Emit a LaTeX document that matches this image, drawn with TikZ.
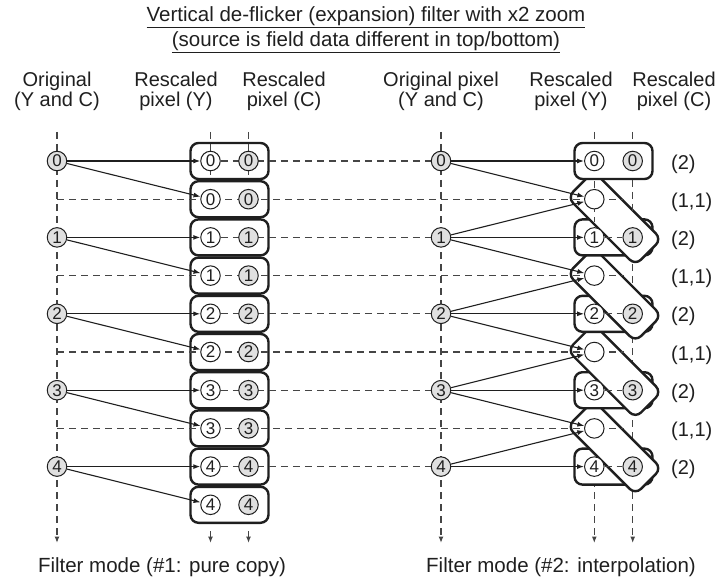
\documentclass[tikz,border=0pt]{standalone}
\usepackage{fontspec}
\setmainfont{Liberation Sans}
\usetikzlibrary{arrows.meta}
\pgfdeclarelayer{boxl}
\pgfdeclarelayer{vlines}
\pgfdeclarelayer{boxr}
\pgfdeclarelayer{hlines}
\pgfsetlayers{boxl,vlines,boxr,hlines,main}
\definecolor{cfill}{gray}{0.88}
\definecolor{dgray}{gray}{0.27}
\definecolor{ink}{gray}{0.12}
\begin{document}
\begin{tikzpicture}[x=1pt,y=-1pt,
  txt/.style={font=\fontsize{20}{22}\selectfont, inner sep=0pt, text=ink},
  ttl/.style={font=\fontsize{20.5}{22}\selectfont, inner sep=0pt, text=ink},
  foot/.style={font=\fontsize{20.5}{22}\selectfont, inner sep=0pt, text=ink},
  dline/.style={draw=dgray, line width=1.2pt, dash pattern=on 7pt off 5pt},
  darr/.style={dline, -{Latex[length=6.5pt,width=5pt]}},
  arr/.style={draw=ink, line width=1.1pt, -{Latex[length=7pt,width=5pt]}},
  rowbox/.style={draw=ink, line width=2.4pt, rounded corners=8pt, fill=white, minimum width=78pt, minimum height=36pt, inner sep=0pt},
  tiltbox/.style={rowbox, minimum width=96pt, minimum height=37pt, rotate=-45},
  pix/.style={circle, draw=ink, line width=1pt, minimum size=19.5pt, inner sep=0pt, text=ink, font=\fontsize{17}{17}\selectfont},
  opix/.style={pix, fill=cfill},
  ypix/.style={pix, fill=white},
  cpix/.style={pix, fill=cfill}
]
\useasboundingbox (0,0) rectangle (717,580);

% titles
\node[ttl, anchor=base] (t1) at (366,22) {\underline{Vertical de-flicker (expansion) filter with x2 zoom}};
\node[ttl, anchor=base] (t2) at (366,47) {\underline{(source is field data different in top/bottom)}};

% headers
\node[txt, anchor=base] (h1a) at (57,86.5) {Original};
\node[txt, anchor=base] (h1b) at (57,106.5) {(Y and C)};
\node[txt, anchor=base] (h2a) at (176,86.5) {Rescaled};
\node[txt, anchor=base] (h2b) at (176,106.5) {pixel (Y)};
\node[txt, anchor=base] (h3a) at (284,86.5) {Rescaled};
\node[txt, anchor=base] (h3b) at (284,106.5) {pixel (C)};
\node[txt, anchor=base] (h4a) at (441,86.5) {Original pixel};
\node[txt, anchor=base] (h4b) at (441,106.5) {(Y and C)};
\node[txt, anchor=base] (h5a) at (571,86.5) {Rescaled};
\node[txt, anchor=base] (h5b) at (571,106.5) {pixel (Y)};
\node[txt, anchor=base] (h6a) at (674,86.5) {Rescaled};
\node[txt, anchor=base] (h6b) at (674,106.5) {pixel (C)};

% footers
\node[foot, anchor=base] (f1) at (162,572) {Filter mode (\#1: pure copy)};
\node[foot, anchor=base] (f2) at (561,572) {Filter mode (\#2: interpolation)};

% pixel circles
\foreach \k in {0,...,4} {
  \pgfmathsetmacro\ya{161+76.4*\k}
  \pgfmathsetmacro\yb{199.2+76.4*\k}
  \node[opix] (oL\k) at (57,\ya) {\k};
  \node[ypix] (yLa\k) at (210.5,\ya) {\k};
  \node[cpix] (cLa\k) at (248.5,\ya) {\k};
  \node[ypix] (yLb\k) at (210.5,\yb) {\k};
  \node[cpix] (cLb\k) at (248.5,\yb) {\k};
  \node[opix] (oR\k) at (441,\ya) {\k};
  \node[ypix] (yR\k) at (594.3,\ya) {\k};
  \node[cpix] (cR\k) at (632.7,\ya) {\k};
  \node[txt, anchor=west] (lab2\k) at (671,\ya+3) {(2)};
}
\foreach \k in {0,...,3} {
  \pgfmathsetmacro\yb{199.2+76.4*\k}
  \node[ypix] (eR\k) at (594.3,\yb) {};
  \node[txt, anchor=west] (lab11\k) at (671,\yb+3) {(1,1)};
}

% left boxes
\begin{pgfonlayer}{boxl}
\foreach \i in {0,...,9} {
  \pgfmathsetmacro\yc{161+38.2*\i}
  \node[rowbox] (bL\i) at (229.5,\yc) {};
}
\end{pgfonlayer}

% right boxes (bottom-up so that each tilted box covers the next row box)
\begin{pgfonlayer}{boxr}
\node[rowbox] (bR4) at (613.5,466.6) {};
\node[tiltbox] (tR3) at (614.5,447.5) {};
\node[rowbox] (bR3) at (613.5,390.2) {};
\node[tiltbox] (tR2) at (614.5,371.1) {};
\node[rowbox] (bR2) at (613.5,313.8) {};
\node[tiltbox] (tR1) at (614.5,294.7) {};
\node[rowbox] (bR1) at (613.5,237.4) {};
\node[tiltbox] (tR0) at (614.5,218.3) {};
\node[rowbox] (bR0) at (613.5,161) {};
\end{pgfonlayer}

% vertical guide lines
\begin{pgfonlayer}{vlines}
\coordinate (vL0t) at (57,132);      \coordinate (vL0b) at (57,543);
\coordinate (vLYt) at (210.5,132);   \coordinate (vLYm) at (210.5,179);
\coordinate (vLCt) at (248.5,132);   \coordinate (vLCm) at (248.5,179);
\coordinate (vLYs) at (210.5,531);   \coordinate (vLYb) at (210.5,543);
\coordinate (vLCs) at (248.5,531);   \coordinate (vLCb) at (248.5,543);
\coordinate (vR0t) at (441,132);     \coordinate (vR0b) at (441,543);
\coordinate (vRYt) at (594.3,132);   \coordinate (vRYb) at (594.3,543);
\coordinate (vRCt) at (632.7,132);   \coordinate (vRCb) at (632.7,543);
\draw[darr] (vL0t) -- (vL0b);
\draw[dline] (vLYt) -- (vLYm);
\draw[dline] (vLCt) -- (vLCm);
\draw[darr] (vLYs) -- (vLYb);
\draw[darr] (vLCs) -- (vLCb);
\draw[darr] (vR0t) -- (vR0b);
\draw[darr] (vRYt) -- (vRYb);
\draw[darr] (vRCt) -- (vRCb);
\end{pgfonlayer}

% horizontal lines and arrows
\begin{pgfonlayer}{hlines}
% column ticks visible inside the first tilted box
\coordinate (vRYu) at (594.3,181);  \coordinate (vRYv) at (594.3,222);
\coordinate (vRCu) at (632.7,180);  \coordinate (vRCv) at (632.7,215);
\draw[dline] (vRYu) -- (vRYv);
\draw[dline] (vRCu) -- (vRCv);
\foreach \k in {0,...,3} {
  \pgfmathsetmacro\yb{199.2+76.4*\k}
  \coordinate (hs\k) at (57,\yb);
  \coordinate (he\k) at (624,\yb);
  \draw[dline] (hs\k) -- (he\k);
}
\foreach \k in {0,...,4} {
  \draw[dline] (yLa\k) -- (oR\k);
  \draw[arr] (oL\k) -- (yLa\k);
  \draw[arr] (oL\k) -- (yLb\k);
  \draw[arr] (oR\k) -- (yR\k);
}
\foreach \k in {1,...,4} {
  \draw[dline] (yR\k) -- (cR\k);
}
\foreach \k in {0,...,3} {
  \draw[arr] (oR\k) -- (eR\k);
}
\foreach \k [evaluate=\k as \j using int(\k-1)] in {1,...,4} {
  \draw[arr] (oR\k) -- (eR\j);
}
\end{pgfonlayer}
\end{tikzpicture}
\end{document}
